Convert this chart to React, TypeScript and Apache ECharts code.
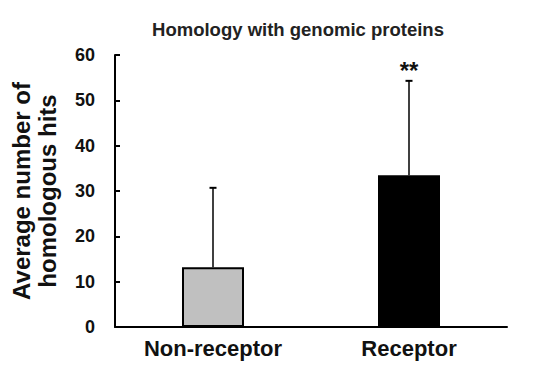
import React, { useEffect, useRef } from "react";
import * as echarts from "echarts";

const categories = ["Non-receptor", "Receptor"];
const means = [13.2, 33.5];
const errors = [17.5, 20.8];
const significance = ["", "**"];
const barColors = ["#c0c0c0", "#000000"];
const yTicks = { min: 0, max: 60, interval: 10 };

export default function App() {
  const ref = useRef<HTMLDivElement>(null);
  useEffect(() => {
    if (!ref.current) return;
    const chart = echarts.init(ref.current, undefined, { renderer: "svg" });
    const font = "Arial, 'Liberation Sans', sans-serif";
    chart.setOption({
      animation: false,
      backgroundColor: "#ffffff",
      title: {
        text: "Homology with genomic proteins",
        left: 293,
        textAlign: "center",
        top: 15,
        textStyle: { fontFamily: font, fontSize: 18.5, fontWeight: "bold", color: "#222" },
      },
      grid: { left: 115, right: 43, top: 55, bottom: 43 },
      xAxis: {
        type: "category",
        data: categories,
        axisLine: { lineStyle: { color: "#000", width: 2 } },
        axisTick: { show: false },
        axisLabel: { fontFamily: font, fontSize: 22, fontWeight: "bold", color: "#111", margin: 10 },
      },
      yAxis: {
        type: "value",
        min: yTicks.min,
        max: yTicks.max,
        interval: yTicks.interval,
        name: "Average number of\nhomologous hits",
        nameLocation: "middle",
        nameGap: 55,
        nameTextStyle: { fontFamily: font, fontSize: 24, fontWeight: "bold", color: "#111", lineHeight: 26 },
        axisLine: { show: true, lineStyle: { color: "#000", width: 2 } },
        axisTick: { show: true, inside: true, length: 5, lineStyle: { color: "#000", width: 2 } },
        axisLabel: { fontFamily: font, fontSize: 18, fontWeight: "bold", color: "#111", margin: 20 },
        splitLine: { show: false },
      },
      series: [
        {
          type: "bar",
          barWidth: 62,
          data: means.map((v, i) => ({
            value: v,
            itemStyle: { color: barColors[i], borderColor: "#000", borderWidth: 2 },
          })),
          z: 2,
        },
        {
          type: "custom",
          z: 1,
          data: means.map((v, i) => [i, v, v + errors[i], significance[i]]),
          renderItem: (params: any, api: any) => {
            const x = api.value(0);
            const lo = api.coord([x, api.value(1)]);
            const hi = api.coord([x, api.value(2)]);
            const sig = significance[params.dataIndex];
            const children: any[] = [
              { type: "line", shape: { x1: lo[0], y1: lo[1], x2: hi[0], y2: hi[1] }, style: { stroke: "#000", lineWidth: 1.5 } },
              { type: "line", shape: { x1: hi[0] - 3.5, y1: hi[1], x2: hi[0] + 3.5, y2: hi[1] }, style: { stroke: "#000", lineWidth: 2 } },
            ];
            if (sig) {
              children.push({
                type: "text",
                x: hi[0],
                y: hi[1] + 2,
                style: { text: sig, fontFamily: font, fontSize: 24, fontWeight: "bold", fill: "#111", align: "center", verticalAlign: "bottom" },
              });
            }
            return { type: "group", children };
          },
        },
      ],
    });
    return () => chart.dispose();
  }, []);
  return <div ref={ref} style={{ width: 550, height: 370, position: "absolute", left: 0, top: 0 }} />;
}
